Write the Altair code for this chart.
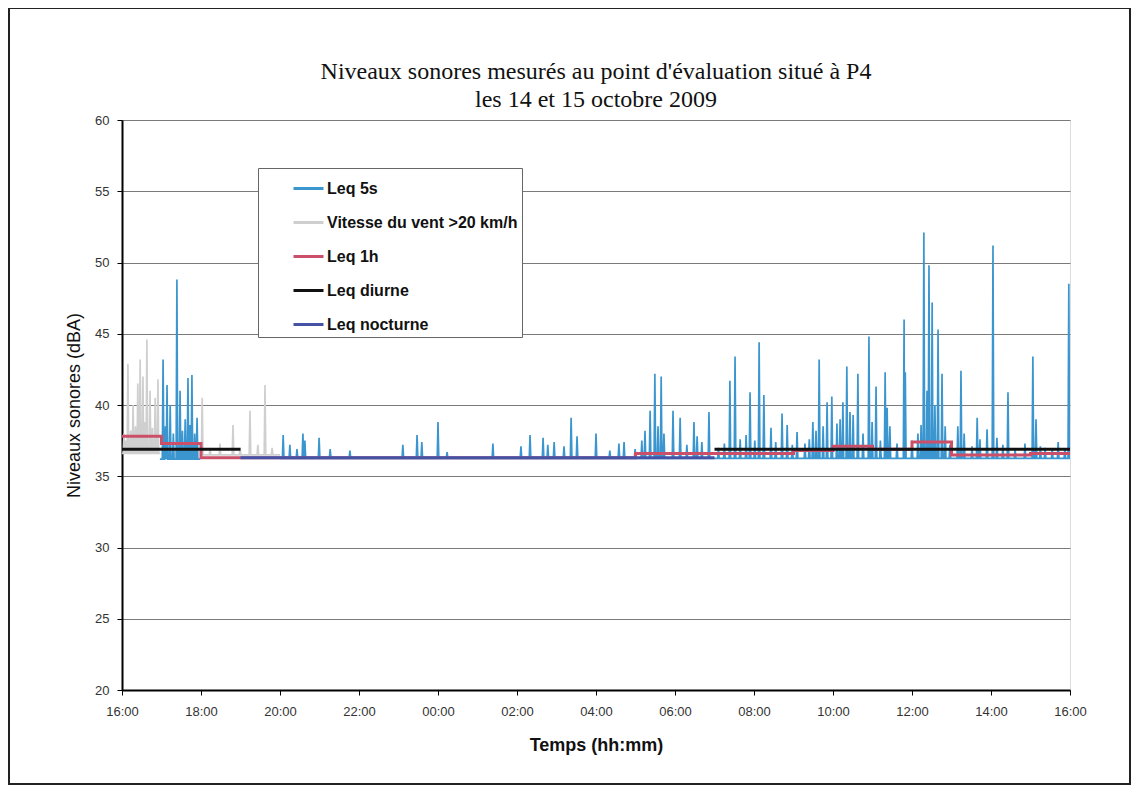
import altair as alt
import pandas as pd

# ---------------- data (hours since 16:00 on 14 Oct) ----------------
S5 = "Leq 5s"
SW = "Vitesse du vent >20 km/h"
S1 = "Leq 1h"
SD = "Leq diurne"
SN = "Leq nocturne"

# Leq 5s, segment A (17:00-18:00)
a_start, a_end, a_base = 0.96, 1.98, 36.2
a_t = [1.04, 1.10, 1.14, 1.22, 1.30, 1.39, 1.47, 1.53, 1.60, 1.67, 1.72, 1.77, 1.84, 1.90]
a_v = [43.2, 38.5, 41.4, 40.0, 38.0, 48.8, 41.0, 38.2, 39.0, 41.9, 38.6, 42.1, 38.0, 39.1]

# Leq 5s, segment B (20:00-16:00)
b_start, b_end, b_base = 4.0, 24.0, 36.25
b_t = [4.08, 4.25, 4.43, 4.58, 4.63, 4.99, 5.27, 5.77, 7.11, 7.47, 7.59, 8.00,
       8.23, 9.39, 10.10, 10.33, 10.66, 10.78, 10.94, 11.19, 11.37, 11.52, 12.00,
       12.35, 12.58, 12.71, 12.99, 13.16, 13.24, 13.37, 13.49, 13.57, 13.65, 13.72,
       13.95, 14.13, 14.30, 14.48, 14.56, 14.68, 14.86, 15.10, 15.25, 15.39, 15.52,
       15.65, 15.80, 15.90, 16.02, 16.13, 16.25, 16.43, 16.55, 16.71, 16.84, 16.97,
       17.09, 17.29, 17.40, 17.49, 17.57, 17.65, 17.75, 17.85, 17.97, 18.10, 18.18,
       18.25, 18.35, 18.43, 18.51, 18.63, 18.76, 18.91, 18.99, 19.09, 19.20, 19.32,
       19.37, 19.44, 19.62, 19.80, 19.83, 20.00, 20.15, 20.23, 20.30, 20.38, 20.43,
       20.51, 20.58, 20.66, 20.76, 20.84, 20.96, 21.16, 21.24, 21.32, 21.52, 21.65,
       21.72, 21.90, 22.05, 22.15, 22.30, 22.43, 22.61, 22.86, 23.06, 23.14, 23.25,
       23.37, 23.55, 23.70, 23.87, 23.97]
b_v = [37.9, 37.2, 36.9, 38.0, 37.5, 37.7, 36.9, 36.8, 37.2, 37.9, 37.4, 38.8,
       36.7, 37.3, 37.1, 37.9, 37.7, 37.2, 37.4, 37.1, 39.1, 37.8, 38.0,
       36.8, 37.3, 37.4, 36.9, 37.5, 38.2, 39.6, 42.2, 38.5, 42.0, 38.0,
       39.6, 39.1, 37.2, 38.8, 37.8, 37.4, 39.5, 37.0, 37.3, 41.7, 43.4,
       37.6, 37.9, 40.9, 37.5, 44.4, 40.7, 38.4, 37.4, 39.4, 38.6, 37.2,
       38.1, 37.3, 37.6, 38.8, 38.2, 43.2, 38.5, 40.2, 40.6, 38.7, 39.0,
       40.2, 42.7, 39.5, 39.3, 42.2, 38.0, 44.8, 38.8, 41.3, 37.5, 42.3,
       39.8, 38.5, 37.3, 46.0, 42.3, 37.5, 38.0, 38.6, 52.1, 41.0, 49.8,
       47.2, 40.0, 45.3, 42.2, 38.5, 37.2, 38.5, 42.4, 38.0, 37.1, 39.1,
       37.6, 38.3, 51.2, 37.7, 37.2, 40.9, 36.9, 37.3, 43.4, 39.0, 37.1,
       37.0, 36.9, 37.4, 36.9, 48.5]

# Wind > 20 km/h, segment 1 (16:00-17:00)
w1_start, w1_end, w1_base = 0.0, 0.97, 36.6
w1_t = [0.05, 0.10, 0.15, 0.22, 0.28, 0.34, 0.40, 0.46, 0.53, 0.58, 0.63, 0.71, 0.77, 0.84, 0.91]
w1_v = [38.0, 37.5, 42.9, 38.2, 40.0, 38.5, 41.5, 43.2, 42.0, 38.8, 44.6, 41.0, 38.4, 40.5, 41.8]

# Wind > 20 km/h, segment 2 (18:00-20:00)
w2_start, w2_end, w2_base = 1.98, 4.0, 36.5
w2_t = [2.03, 2.23, 2.48, 2.81, 2.99, 3.24, 3.44, 3.62, 3.80]
w2_v = [40.5, 37.0, 37.3, 38.6, 37.0, 39.6, 37.2, 41.4, 37.0]

# Leq 1h (hourly steps, 16:00 ... 15:00, closing point at 16:00)
h1_t = list(range(25))
h1_v = [37.8, 37.3, 36.3, 36.3, 36.3, 36.3, 36.3, 36.3, 36.3, 36.3, 36.3, 36.3,
        36.3, 36.6, 36.6, 36.6, 36.6, 36.8, 37.1, 36.9, 37.4, 36.5, 36.5, 36.6, 36.6]

# Leq diurne / nocturne periods
d_t1, d_t2, d_v = [0.0, 15.0], [3.0, 24.0], [36.9, 36.9]
n_t1, n_t2, n_v = [3.0], [15.0], [36.3]

x_ticks = list(range(25))
y_ticks = [20, 25, 30, 35, 40, 45, 50, 55, 60]

series_order = [S5, SW, S1, SD, SN]
series_colors = ["#3b96cf", "#cfcfcf", "#cc4f6a", "#111111", "#4553a6"]


def spikes(series, seg, start, end, base, ts, vs, hw=0.02):
    rows = [(start, base)]
    for t, v in zip(ts, vs):
        rows += [(t - hw, base), (t, v), (t + hw, base)]
    rows.append((end, base))
    return [{"t": t, "v": v, "series": series, "seg": seg} for t, v in rows]


raw_rows = (spikes(S5, "a", a_start, a_end, a_base, a_t, a_v)
            + spikes(S5, "b", b_start, b_end, b_base, b_t, b_v)
            + spikes(SW, "w1", w1_start, w1_end, w1_base, w1_t, w1_v)
            + spikes(SW, "w2", w2_start, w2_end, w2_base, w2_t, w2_v))
raw_df = pd.DataFrame(raw_rows)
h1_df = pd.DataFrame({"t": h1_t, "v": h1_v, "series": S1})
per_rows = []
for i, (t1, t2, v) in enumerate(zip(d_t1, d_t2, d_v)):
    per_rows += [{"t": t1, "v": v, "series": SD, "seg": f"d{i}"},
                 {"t": t2, "v": v, "series": SD, "seg": f"d{i}"}]
for i, (t1, t2, v) in enumerate(zip(n_t1, n_t2, n_v)):
    per_rows += [{"t": t1, "v": v, "series": SN, "seg": f"n{i}"},
                 {"t": t2, "v": v, "series": SN, "seg": f"n{i}"}]
per_df = pd.DataFrame(per_rows)

FONT = "Liberation Sans"

label_expr = ("datum.value % 2 == 0 ? "
              "((((16 + datum.value) % 24) < 10) ? '0' : '') + ((16 + datum.value) % 24) + ':00' : ''")

x_enc = alt.X("t:Q", scale=alt.Scale(domain=[0, 24], nice=False, zero=False),
              axis=alt.Axis(title="Temps (hh:mm)", values=x_ticks, labelExpr=label_expr,
                            grid=False, labelFontSize=13, labelColor="#333", labelFont=FONT,
                            labelPadding=10, tickSize=5, tickColor="#000", domainColor="#000",
                            domainWidth=2, titleFont=FONT, titleFontSize=18, titleFontWeight="bold",
                            titleColor="#111", titlePadding=18, labelFlush=False, labelOverlap=False))
y_enc = alt.Y("v:Q", scale=alt.Scale(domain=[20, 60], nice=False, zero=False),
              axis=alt.Axis(title="Niveaux sonores (dBA)", values=y_ticks, grid=True,
                            gridColor="#7a7a7a", gridWidth=1, labelFontSize=13, labelColor="#333",
                            labelFont=FONT, labelPadding=8, tickSize=5, tickColor="#000",
                            domainColor="#000", domainWidth=2, titleFont=FONT, titleFontSize=18,
                            titleFontWeight="normal", titleColor="#111", titlePadding=11))
color_enc = alt.Color("series:N",
                      scale=alt.Scale(domain=series_order, range=series_colors),
                      legend=alt.Legend(title=None, orient="none", legendX=136, legendY=48,
                                        fillColor="white", strokeColor="#666", padding=4,
                                        symbolType="stroke", symbolSize=900, symbolStrokeWidth=3,
                                        symbolOffset=30, labelOffset=2, labelFont=FONT,
                                        labelFontSize=16, labelFontWeight="bold",
                                        labelColor="#111", rowPadding=9, labelLimit=400))

raw_layer = alt.Chart(raw_df).mark_line(strokeWidth=1.7, clip=True).encode(
    x=x_enc, y=y_enc, color=color_enc, detail="seg:N")
h1_layer = alt.Chart(h1_df).mark_line(strokeWidth=3, interpolate="step-after", clip=True).encode(
    x="t:Q", y="v:Q", color=alt.Color("series:N"))
per_layer = alt.Chart(per_df).mark_line(strokeWidth=3, clip=True).encode(
    x="t:Q", y="v:Q", color=alt.Color("series:N"), detail="seg:N")
frame = alt.Chart(pd.DataFrame({"k": [0]})).mark_rect(
    fill="transparent", stroke="#222", strokeWidth=2, clip=False).encode(
    x=alt.value(-113), x2=alt.value(1008), y=alt.value(-112), y2=alt.value(664))

chart = alt.layer(raw_layer, h1_layer, per_layer, frame).properties(
    width=948, height=570,
    title=alt.TitleParams(["Niveaux sonores mesurés au point d'évaluation situé à P4",
                           "les 14 et 15 octobre 2009"],
                          font="Liberation Serif", fontSize=24, fontWeight="normal",
                          color="#111", anchor="middle", offset=10, lineHeight=28, dy=115),
    autosize=alt.AutoSizeParams(type="none"),
    padding={"left": 114, "top": 112, "right": 62, "bottom": 95},
).configure_view(stroke="#000", strokeWidth=2.5).configure(background="white")

chart.save("out.html", embed_options={"renderer": "svg", "actions": False})
